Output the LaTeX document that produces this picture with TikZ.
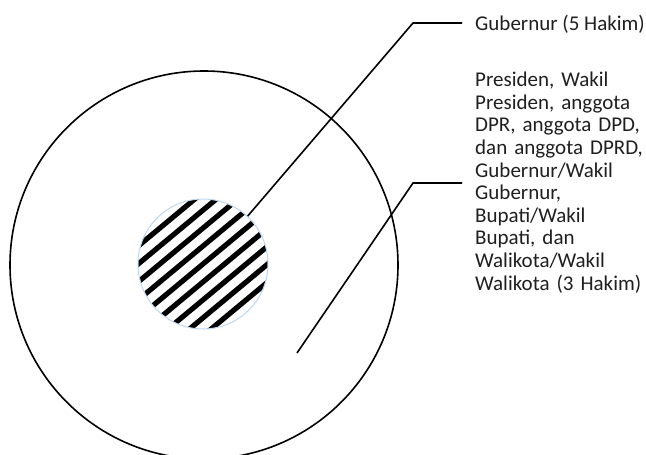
\documentclass[tikz,border=0pt]{standalone}
\usepackage{fontspec}
\setmainfont{Carlito}
\usepackage{tikz}
\usetikzlibrary{positioning,calc}
\definecolor{rimblue}{RGB}{189,215,238}

\begin{document}
\begin{tikzpicture}[x=1pt, y=-1pt,
  ring/.style = {draw, circle, line width=1.6pt, inner sep=0pt},
  leader/.style = {line width=1.6pt},
  lbl/.style = {inner sep=0pt, text=black!88, font=\fontsize{21}{22.6}\selectfont, align=left}]
\useasboundingbox (0,0) rectangle (646,455);
\node [ring, minimum size=388pt] (outer) at (204,265) {};
% hatched core
\begin{scope}
\clip (203,264) circle (65pt);
\foreach \k in {-6,...,6}
  \draw [line width=5.2pt] ($(203,264)+(\k*13.8*0.643,\k*13.8*0.766)+(-77,64)$) -- ++(154,-128);
\end{scope}
\node [draw=rimblue, circle, line width=1pt, minimum size=130pt, inner sep=0pt] (core) at (203,264) {};
% labels
\node [lbl, anchor=west] (gub) at (475,24) {Gubernur (5 Hakim)};
\node [lbl, anchor=north west, text width=175pt] (rest) at (475,72) {Presiden, Wakil\\ Presiden, anggota\\ DPR, anggota DPD,\\ dan anggota DPRD,\\ Gubernur/Wakil\\ Gubernur,\\ Bupati/Wakil\\ Bupati, dan\\ Walikota/Wakil\\ Walikota (3 Hakim)};
% leaders
\coordinate (bend1) at (413,23);
\coordinate (end1) at (462,23);
\coordinate (tip2) at (297,353);
\coordinate (bend2) at (413,183);
\coordinate (end2) at (462,183);
\draw [leader] (core.47) -- (bend1) -- (end1);
\draw [leader] (tip2) -- (bend2) -- (end2);
\end{tikzpicture}
\end{document}
